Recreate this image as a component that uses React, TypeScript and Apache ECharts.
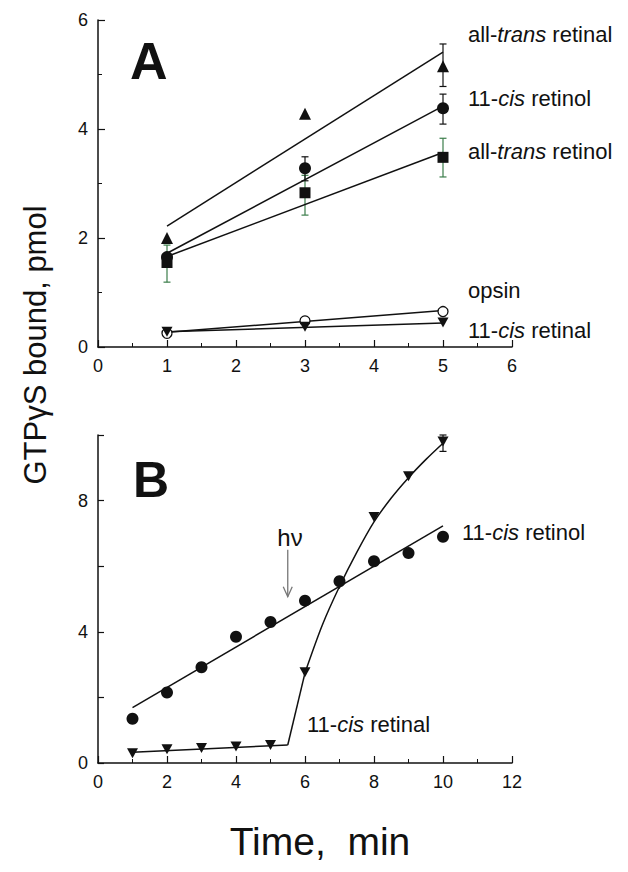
import React, { useEffect, useRef } from "react";
import * as echarts from "echarts";

// ---------- Panel A data ----------
const xA = [1, 3, 5];
const atRetinalA = [2.0, 4.28, 5.15];
const cisRetinolA = [1.65, 3.28, 4.38];
const atRetinolA = [1.55, 2.83, 3.48];
const opsinA = [0.25, 0.48, 0.65];
const cisRetinalA = [0.28, 0.37, 0.45];

const fitAtRetinalA = [[1, 2.22], [5, 5.41]];
const fitCisRetinolA = [[1, 1.72], [5, 4.42]];
const fitAtRetinolA = [[1, 1.66], [5, 3.57]];
const fitOpsinA = [[1, 0.27], [5, 0.67]];
const fitCisRetinalA = [[1, 0.28], [5, 0.44]];

// error bars: [x, low, high]
const errAtRetinalA = [[5, 4.78, 5.56]];
const errCisRetinolA = [[3, 3.05, 3.49], [5, 4.09, 4.64]];
const errAtRetinolA = [[1, 1.19, 1.87], [3, 2.42, 3.15], [5, 3.12, 3.83]];

// ---------- Panel B data ----------
const xB = [1, 2, 3, 4, 5, 6, 7, 8, 9, 10];
const cisRetinolB = [1.35, 2.15, 2.92, 3.85, 4.3, 4.95, 5.54, 6.15, 6.4, 6.9];
const cisRetinalB = [0.3, 0.42, 0.46, 0.5, 0.55, 2.77, 5.45, 7.5, 8.74, 9.8];
const fitCisRetinolB = [[1, 1.69], [10, 7.23]];
const fitCisRetinalDarkB = [[1, 0.33], [5.5, 0.55]];
const fitCisRetinalStepB = [[5.5, 0.55], [6, 2.75]];
const fitCisRetinalLightB = [
  [6, 2.75], [6.5, 4.2], [7, 5.38], [7.5, 6.42], [8, 7.35], [8.5, 8.08], [9, 8.7], [9.5, 9.25], [10, 9.75],
];
const errCisRetinalB = [[10, 9.5, 10.0]];
const hvArrow = [[5.5, 6.5, 5.07]];

const FONT = "'Liberation Sans', Arial, Helvetica, sans-serif";
const INK = "#111";
const GREEN = "#3b7d4a";
const TRI_DOWN = "path://M0,0L10,0L5,9Z";

function pairs(xs: number[], ys: number[]) {
  return xs.map((x, i) => [x, ys[i]]);
}

function axisBase(extra: any) {
  return {
    type: "value",
    axisLine: { show: true, onZero: false, lineStyle: { color: INK, width: 1.5 } },
    axisTick: { show: true, inside: true, length: 7, lineStyle: { color: INK, width: 1.2 } },
    minorTick: { show: true, splitNumber: 2, length: 4, lineStyle: { color: INK, width: 1 } },
    axisLabel: { color: INK, fontSize: 18, fontFamily: FONT, margin: 10 },
    splitLine: { show: false },
    minorSplitLine: { show: false },
    ...extra,
  };
}

function errSeries(data: number[][], color: string, xi: number, yi: number) {
  return {
    type: "custom",
    xAxisIndex: xi,
    yAxisIndex: yi,
    z: 2,
    encode: { x: 0, y: [1, 2] },
    data,
    renderItem: (params: any, api: any) => {
      const x = api.value(0);
      const lo = api.coord([x, api.value(1)]);
      const hi = api.coord([x, api.value(2)]);
      const w = 3.5;
      const st = { stroke: color, lineWidth: 1.2 };
      return {
        type: "group",
        children: [
          { type: "line", shape: { x1: lo[0], y1: lo[1], x2: hi[0], y2: hi[1] }, style: st },
          { type: "line", shape: { x1: lo[0] - w, y1: lo[1], x2: lo[0] + w, y2: lo[1] }, style: st },
          { type: "line", shape: { x1: hi[0] - w, y1: hi[1], x2: hi[0] + w, y2: hi[1] }, style: st },
        ],
      };
    },
  };
}

function fitLine(data: number[][], xi: number, yi: number, smooth = false) {
  return {
    type: "line",
    xAxisIndex: xi,
    yAxisIndex: yi,
    data,
    symbol: "none",
    smooth: smooth ? 0.3 : false,
    z: 2,
    lineStyle: { color: INK, width: 1.5, opacity: 1 },
    silent: true,
  };
}

function scatter(data: number[][], symbol: string, size: any, xi: number, yi: number, hollow = false) {
  return {
    type: "scatter",
    xAxisIndex: xi,
    yAxisIndex: yi,
    data,
    symbol,
    symbolSize: size,
    z: 4,
    itemStyle: hollow
      ? { color: "#fff", borderColor: INK, borderWidth: 1.3, opacity: 1 }
      : { color: INK, borderColor: INK, borderWidth: 0, opacity: 1 },
  };
}

function label(x: number, y: number, parts: [string, boolean][], size: number) {
  const text = parts.map(([t, it]) => `{${it ? "i" : "n"}|${t}}`).join("");
  return {
    type: "text",
    x,
    y,
    style: {
      text,
      align: "left",
      verticalAlign: "middle",
      rich: {
        n: { fontFamily: FONT, fontSize: size, fill: INK, color: INK },
        i: { fontFamily: FONT, fontSize: size, fontStyle: "italic", fill: INK, color: INK },
      },
    },
  };
}

export default function App() {
  const ref = useRef<HTMLDivElement>(null);
  useEffect(() => {
    if (!ref.current) return;
    const chart = echarts.init(ref.current, undefined, { renderer: "svg" });
    chart.setOption({
      animation: false,
      backgroundColor: "#fff",
      grid: [
        { left: 98, top: 20, width: 414, height: 327 },
        { left: 98, top: 435, width: 414, height: 328 },
      ],
      xAxis: [
        axisBase({ gridIndex: 0, min: 0, max: 6, interval: 1 }),
        axisBase({ gridIndex: 1, min: 0, max: 12, interval: 2 }),
      ],
      yAxis: [
        axisBase({ gridIndex: 0, min: 0, max: 6, interval: 2 }),
        axisBase({
          gridIndex: 1,
          min: 0,
          max: 10,
          interval: 2,
          minorTick: { show: false },
          axisTick: { show: true, inside: true, length: 6, lineStyle: { color: INK, width: 1.2 } },
          axisLabel: {
            color: INK,
            fontSize: 18,
            fontFamily: FONT,
            margin: 10,
            formatter: (v: number) => (v % 4 === 0 ? String(v) : ""),
          },
        }),
      ],
      series: [
        // Panel A fits
        fitLine(fitAtRetinalA, 0, 0),
        fitLine(fitCisRetinolA, 0, 0),
        fitLine(fitAtRetinolA, 0, 0),
        fitLine(fitOpsinA, 0, 0),
        fitLine(fitCisRetinalA, 0, 0),
        // Panel A error bars
        errSeries(errAtRetinolA, GREEN, 0, 0),
        errSeries(errAtRetinalA, INK, 0, 0),
        errSeries(errCisRetinolA, INK, 0, 0),
        // Panel A points
        scatter(pairs(xA, cisRetinolA), "circle", 12, 0, 0),
        scatter(pairs(xA, atRetinolA), "rect", 11, 0, 0),
        scatter(pairs(xA, atRetinalA), "triangle", 12, 0, 0),
        scatter(pairs(xA, opsinA), "circle", 10, 0, 0, true),
        scatter(pairs(xA, cisRetinalA), TRI_DOWN, [11, 10], 0, 0),
        // Panel B fits
        fitLine(fitCisRetinolB, 1, 1),
        fitLine(fitCisRetinalDarkB, 1, 1),
        fitLine(fitCisRetinalStepB, 1, 1),
        fitLine(fitCisRetinalLightB, 1, 1, true),
        errSeries(errCisRetinalB, INK, 1, 1),
        scatter(pairs(xB, cisRetinalB), TRI_DOWN, [11, 10], 1, 1),
        scatter(pairs(xB, cisRetinolB), "circle", 12, 1, 1),
        // h-nu arrow
        {
          type: "custom",
          xAxisIndex: 1,
          yAxisIndex: 1,
          z: 3,
          encode: { x: 0, y: [1, 2] },
          data: hvArrow,
          renderItem: (params: any, api: any) => {
            const x = api.value(0);
            const a = api.coord([x, api.value(1)]);
            const b = api.coord([x, api.value(2)]);
            const st = { stroke: "#777", lineWidth: 1.3, fill: "none" };
            return {
              type: "group",
              children: [
                { type: "line", shape: { x1: a[0], y1: a[1], x2: b[0], y2: b[1] }, style: st },
                {
                  type: "polyline",
                  shape: { points: [[b[0] - 4.5, b[1] - 10], [b[0], b[1]], [b[0] + 4.5, b[1] - 10]] },
                  style: st,
                },
              ],
            };
          },
        },
      ],
      graphic: [
        {
          type: "text",
          x: 130,
          y: 61,
          style: { text: "A", font: `bold 52px ${FONT}`, fill: INK, align: "left", verticalAlign: "middle" },
        },
        {
          type: "text",
          x: 133,
          y: 480,
          style: { text: "B", font: `bold 50px ${FONT}`, fill: INK, align: "left", verticalAlign: "middle" },
        },
        label(468, 34, [["all-", false], ["trans", true], [" retinal", false]], 22),
        label(468, 98, [["11-", false], ["cis", true], [" retinol", false]], 22),
        label(468, 151, [["all-", false], ["trans", true], [" retinol", false]], 22),
        label(468, 290, [["opsin", false]], 22),
        label(468, 330, [["11-", false], ["cis", true], [" retinal", false]], 22),
        label(462, 532, [["11-", false], ["cis", true], [" retinol", false]], 22),
        label(307, 724, [["11-", false], ["cis", true], [" retinal", false]], 22),
        {
          type: "text",
          x: 290,
          y: 537,
          style: { text: "hν", font: `24px ${FONT}`, fill: INK, align: "center", verticalAlign: "middle" },
        },
        {
          type: "text",
          x: 320,
          y: 841,
          style: { text: "Time,  min", font: `39px ${FONT}`, fill: INK, align: "center", verticalAlign: "middle" },
        },
        {
          type: "text",
          x: 35,
          y: 345,
          rotation: Math.PI / 2,
          style: {
            text: "GTPγS bound, pmol",
            font: `31px ${FONT}`,
            fill: INK,
            align: "center",
            verticalAlign: "middle",
          },
        },
      ],
    });
    return () => chart.dispose();
  }, []);
  return (
    <div
      ref={ref}
      style={{ position: "fixed", left: 0, top: 0, width: 628, height: 872, background: "#fff" }}
    />
  );
}
